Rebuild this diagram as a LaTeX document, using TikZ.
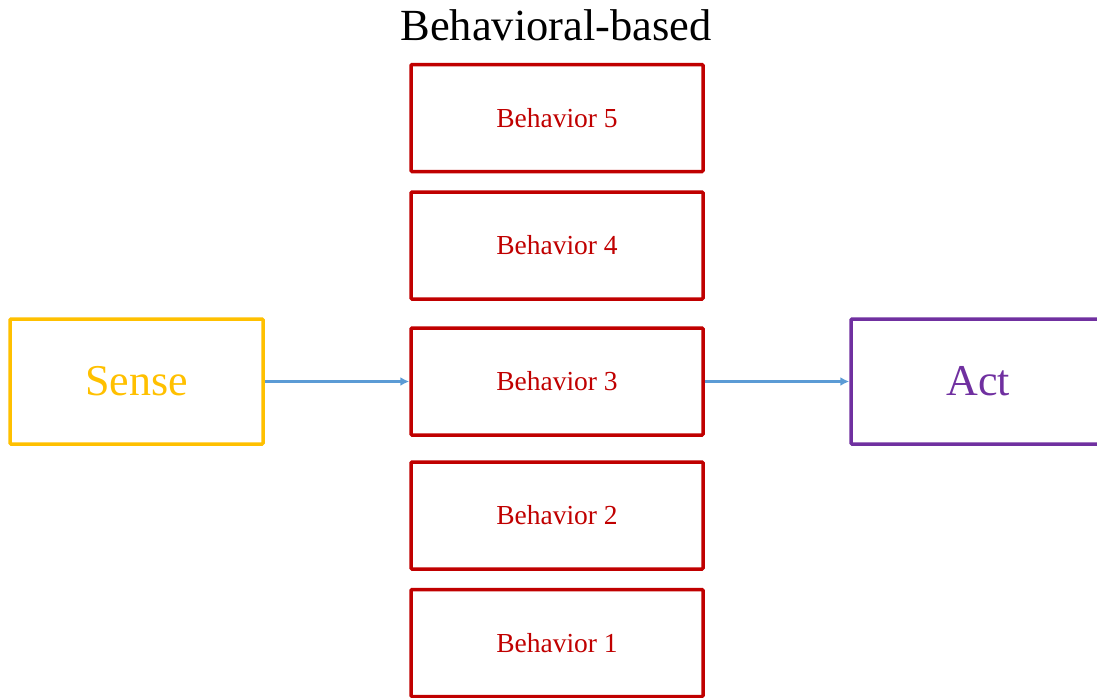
\documentclass[tikz,border=0pt]{standalone}
\usepackage{fontspec}
\setmainfont{Liberation Serif}
\usetikzlibrary{arrows.meta}
\definecolor{senseC}{HTML}{FFC000}
\definecolor{behC}{HTML}{C00000}
\definecolor{actC}{HTML}{7030A0}
\definecolor{arrC}{HTML}{5B9BD5}
\tikzset{
  behbox/.style={draw=behC, line width=3.5pt, rounded corners=1pt, minimum width=292pt, minimum height=107pt, inner sep=0pt, text=behC, font=\fontsize{27.5}{30}\selectfont},
  bigbox/.style={line width=3.5pt, rounded corners=1pt, minimum width=253pt, minimum height=125pt, inner sep=0pt, font=\fontsize{44}{48}\selectfont},
  flow/.style={draw=arrC, line width=2.5pt, -{Latex[length=9pt,width=9pt]}}
}
\begin{document}
\begin{tikzpicture}[x=1pt,y=-1pt]
\useasboundingbox (0,0) rectangle (1097,697);
\clip (0,0) rectangle (1097,697);
\node[font=\fontsize{44.5}{48}\selectfont] (title) at (556,25) {Behavioral-based};
\node[behbox] (b5) at (557,118) {Behavior 5};
\node[behbox] (b4) at (557,245.5) {Behavior 4};
\node[behbox] (b3) at (557,381.5) {Behavior 3};
\node[behbox] (b2) at (557,515.5) {Behavior 2};
\node[behbox] (b1) at (557,643) {Behavior 1};
\node[bigbox, draw=senseC, text=senseC] (sense) at (136.5,381.5) {Sense};
\node[bigbox, draw=actC, minimum width=256pt] (actbox) at (979,381.5) {};
\node[text=actC, font=\fontsize{44}{48}\selectfont] (act) at (978,381.5) {Act};
\draw[flow] (sense.east) -- (b3.west);
\draw[flow] (b3.east) -- (actbox.west);
\end{tikzpicture}
\end{document}
